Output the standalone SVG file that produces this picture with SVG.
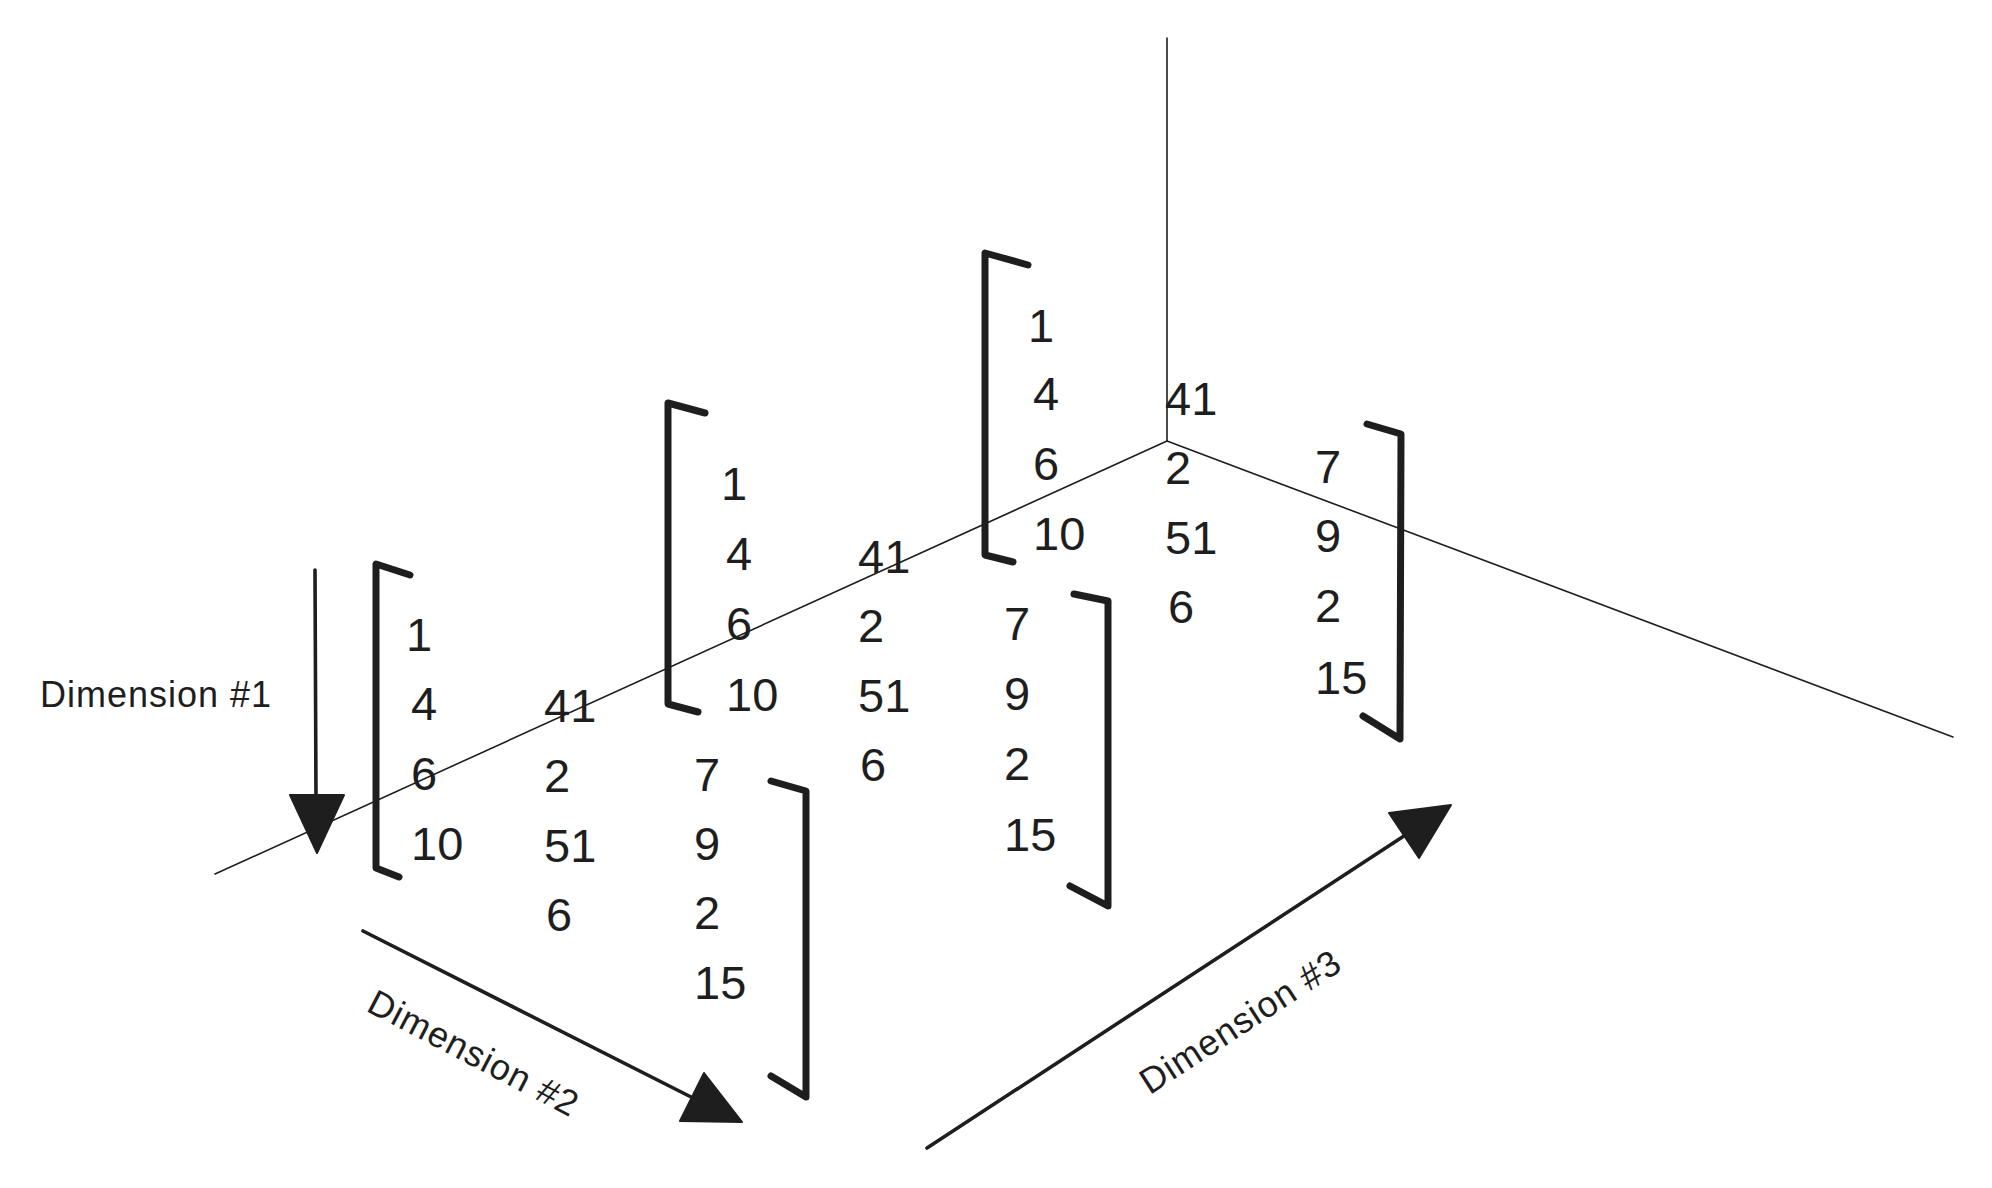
<svg xmlns="http://www.w3.org/2000/svg" width="1992" height="1188" viewBox="0 0 1992 1188">
  <defs>
    <style>
      .axis { stroke: #1e1e1e; stroke-width: 1.6; fill: none; stroke-linecap: round; }
      .arrow { stroke: #1e1e1e; stroke-width: 3.6; fill: none; stroke-linecap: round; }
      .head { fill: #1e1e1e; stroke: #1e1e1e; stroke-width: 2; stroke-linejoin: round; }
      .bracket { stroke: #1e1e1e; stroke-width: 7; fill: none; stroke-linecap: round; stroke-linejoin: round; }
      .num { font-family: "Liberation Sans", Arial, sans-serif; font-size: 47px; fill: #1e1e1e; }
      .label { font-family: "Liberation Sans", Arial, sans-serif; font-size: 36px; letter-spacing: 1px; fill: #1e1e1e; }
    </style>
  </defs>
  <rect x="0" y="0" width="1992" height="1188" fill="#ffffff"/>

  <g id="axes">
    <line class="axis" x1="1167" y1="38" x2="1167" y2="441"/>
    <line class="axis" x1="1167" y1="441" x2="215" y2="874"/>
    <line class="axis" x1="1167" y1="441" x2="1953" y2="737"/>
  </g>

  <g id="matrix-back">
    <path class="bracket" d="M 1028 265 L 985 253 L 985 555 L 1013 562"/>
    <path class="bracket" d="M 1367 424 L 1401 434 L 1400 739 L 1363 716"/>
    <text class="num" x="1033"><tspan x="1028" y="342">1</tspan><tspan x="1033" y="410">4</tspan><tspan x="1033" y="480">6</tspan><tspan x="1033" y="550">10</tspan></text>
    <text class="num" x="1165"><tspan x="1165" y="415">41</tspan><tspan x="1165" y="484">2</tspan><tspan x="1165" y="554">51</tspan><tspan x="1168" y="623">6</tspan></text>
    <text class="num" x="1315"><tspan x="1315" y="483">7</tspan><tspan x="1315" y="552">9</tspan><tspan x="1315" y="622">2</tspan><tspan x="1315" y="694">15</tspan></text>
  </g>

  <g id="matrix-middle">
    <path class="bracket" d="M 705 413 L 668 403 L 668 704 L 698 712"/>
    <path class="bracket" d="M 1074 594 L 1108 601 L 1108 906 L 1070 886"/>
    <text class="num" x="726"><tspan x="721" y="500">1</tspan><tspan x="726" y="570">4</tspan><tspan x="726" y="640">6</tspan><tspan x="726" y="711">10</tspan></text>
    <text class="num" x="858"><tspan x="858" y="573">41</tspan><tspan x="858" y="642">2</tspan><tspan x="858" y="712">51</tspan><tspan x="860" y="781">6</tspan></text>
    <text class="num" x="1004"><tspan x="1004" y="640">7</tspan><tspan x="1004" y="710">9</tspan><tspan x="1004" y="780">2</tspan><tspan x="1004" y="851">15</tspan></text>
  </g>

  <g id="matrix-front">
    <path class="bracket" d="M 410 575 L 376 564 L 376 868 L 399 877"/>
    <path class="bracket" d="M 771 781 L 806 791 L 806 1097 L 771 1076"/>
    <text class="num" x="411"><tspan x="406" y="651">1</tspan><tspan x="411" y="720">4</tspan><tspan x="411" y="790">6</tspan><tspan x="411" y="860">10</tspan></text>
    <text class="num" x="544"><tspan x="544" y="722">41</tspan><tspan x="544" y="792">2</tspan><tspan x="544" y="862">51</tspan><tspan x="546" y="931">6</tspan></text>
    <text class="num" x="694"><tspan x="694" y="791">7</tspan><tspan x="694" y="860">9</tspan><tspan x="694" y="929">2</tspan><tspan x="694" y="999">15</tspan></text>
  </g>

  <g id="connectors">
    <g id="arrow-dim1">
      <line class="arrow" x1="315" y1="570" x2="316" y2="800"/>
      <polygon class="head" points="290,795 344,795 317,853"/>
    </g>
    <g id="arrow-dim2">
      <line class="arrow" x1="363" y1="931" x2="695" y2="1099"/>
      <polygon class="head" points="680,1121 704,1073 742,1122"/>
    </g>
    <g id="arrow-dim3">
      <line class="arrow" x1="927" y1="1148" x2="1407" y2="834"/>
      <polygon class="head" points="1389,813 1419,858 1451,805"/>
    </g>
  </g>

  <g id="label-dim1">
    <text class="label" x="156" y="707" text-anchor="middle">Dimension #1</text>
  </g>
  <g id="label-dim2">
    <text class="label" x="0" y="0" text-anchor="middle" transform="translate(468 1064) rotate(27.5)">Dimension #2</text>
  </g>
  <g id="label-dim3">
    <text class="label" x="0" y="0" text-anchor="middle" transform="translate(1247 1032) rotate(-33)">Dimension #3</text>
  </g>
</svg>
